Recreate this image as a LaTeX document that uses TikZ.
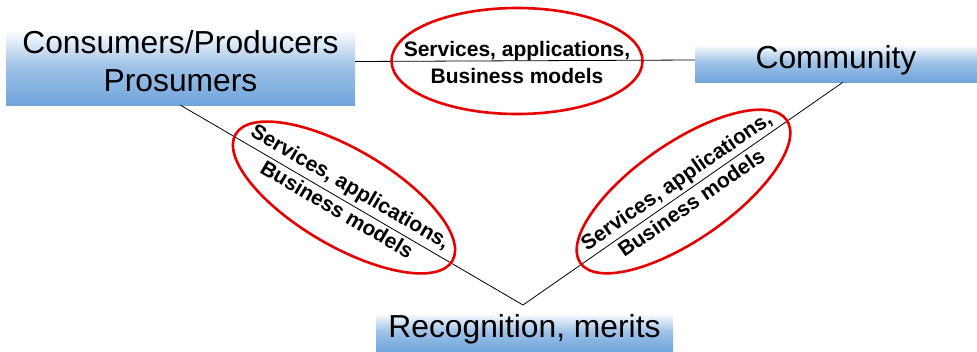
\documentclass[tikz,border=0pt]{standalone}
\usepackage{fontspec}
\setmainfont{Liberation Sans}
\usetikzlibrary{shapes.geometric}
\definecolor{boxblue}{RGB}{112,165,220}
\definecolor{ringred}{RGB}{232,0,0}
% soft white-to-blue fade used by the three labelled boxes (0bp = bottom)
\pgfdeclareverticalshading{boxfade}{100bp}{color(0bp)=(boxblue); color(25bp)=(boxblue); color(47bp)=(boxblue!68!white); color(68bp)=(white); color(100bp)=(white)}
\begin{document}
\begin{tikzpicture}[x=1pt,y=-1pt,
  box/.style={rectangle, shading=boxfade, inner sep=0pt, align=center,
    font=\fontsize{31.8}{38}\selectfont},
  ring/.style={ellipse, draw=ringred, line width=2.6pt, inner sep=0pt,
    minimum width=251pt, minimum height=97pt},
  ringtext/.style={inner sep=0pt, align=center,
    font=\bfseries\fontsize{21}{27}\selectfont},
  link/.style={draw=black, line width=0.8pt}]
  \useasboundingbox (0,0) rectangle (977,351);

  % the three parties
  \node[box, minimum width=349pt, minimum height=87pt] (cp) at (180.5,61.5) {Consumers/Producers\\Prosumers};
  \node[box, minimum width=282pt, minimum height=44pt] (cm) at (836,60) {Community};
  \node[box, minimum width=297pt, minimum height=44pt] (rc) at (524.5,329) {Recognition, merits};

  % triangle of relations
  \coordinate (v) at (523,305);
  \draw[link] (cp.east) -- (cm.west);
  \draw[link] (cp.south) -- (v) -- ([xshift=7pt]cm.south);

  % what each relation carries
  \node[ring, minimum height=106pt] (r1) at (517,61) {};
  \node[ring, rotate=-30.3] (r2) at (344,197.5) {};
  \node[ring, rotate=34.7] (r3) at (683.5,191.5) {};
  \node[ringtext] (t1) at ([yshift=-1pt]r1.center) {Services, applications,\\Business models};
  \node[ringtext, rotate=-30.3] (t2) at (r2.center) {Services, applications,\\Business models};
  \node[ringtext, rotate=34.7] (t3) at (r3.center) {Services, applications,\\Business models};
\end{tikzpicture}
\end{document}
